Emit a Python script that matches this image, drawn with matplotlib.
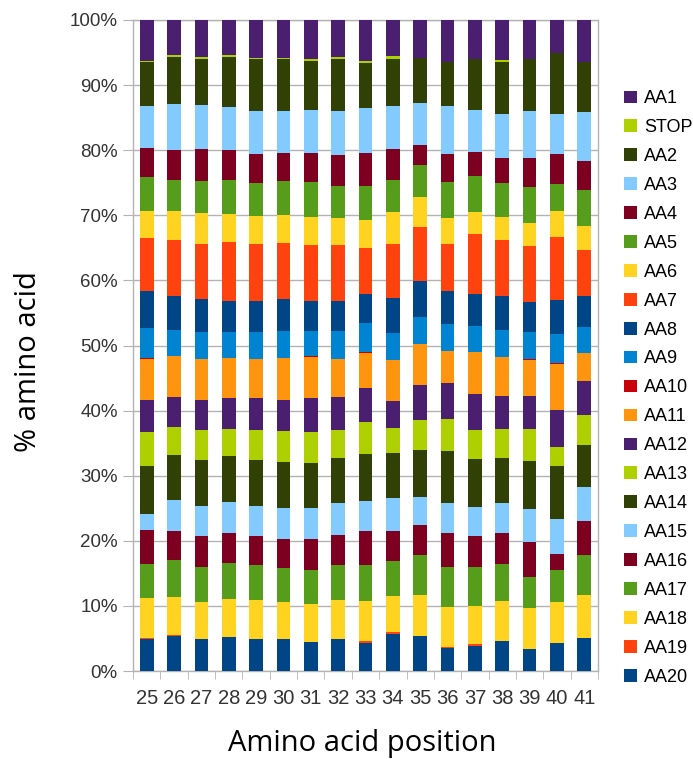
import matplotlib
matplotlib.use("Agg")
import matplotlib.pyplot as plt
from matplotlib.patches import Patch
import numpy as np

positions = [str(p) for p in range(25, 42)]

# percent of each amino acid at every position
aa1 = [6.25, 5.38, 5.73, 5.43, 5.79, 5.79, 5.99, 5.73, 6.25, 5.53, 5.84, 6.50, 5.99, 6.09, 5.99, 5.02, 6.50]
stop = [0.26, 0.26, 0.20, 0.26, 0.20, 0.15, 0.26, 0.20, 0.41, 0.46, 0, 0, 0, 0.31, 0, 0, 0]
aa2 = [6.71, 7.22, 7.12, 7.73, 8.04, 8.09, 7.53, 8.09, 6.76, 7.22, 6.86, 6.71, 7.78, 7.99, 8.04, 9.37, 7.63]
aa3 = [6.35, 7.12, 6.71, 6.55, 6.50, 6.30, 6.61, 6.71, 6.91, 6.55, 6.50, 7.27, 6.55, 6.71, 7.07, 6.14, 7.53]
aa4 = [4.56, 4.51, 4.92, 4.51, 4.51, 4.35, 4.45, 4.66, 5.07, 4.71, 3.02, 4.35, 3.58, 3.94, 4.51, 4.66, 4.35]
aa5 = [5.17, 4.81, 5.02, 5.22, 5.02, 5.17, 5.38, 5.02, 5.22, 4.97, 4.86, 5.58, 5.58, 5.22, 5.53, 4.10, 5.53]
aa6 = [4.10, 4.51, 4.66, 4.30, 4.30, 4.35, 4.35, 4.15, 4.30, 4.92, 4.66, 3.94, 3.38, 3.53, 3.58, 3.94, 3.74]
aa7 = [8.24, 8.55, 8.55, 9.17, 8.81, 8.55, 8.60, 8.60, 7.07, 8.35, 8.35, 7.27, 9.11, 8.55, 8.60, 9.68, 7.07]
aa8 = [5.58, 5.12, 4.97, 4.71, 4.71, 4.97, 4.56, 4.56, 4.45, 5.27, 5.43, 5.02, 5.02, 5.17, 4.56, 5.22, 4.66]
aa9 = [4.66, 3.99, 4.10, 3.89, 4.10, 4.05, 3.84, 4.25, 4.51, 4.10, 4.15, 4.10, 3.94, 4.25, 4.10, 4.51, 4.10]
aa10 = [0.20, 0.10, 0.10, 0.10, 0, 0, 0.10, 0, 0.15, 0, 0, 0, 0, 0, 0.10, 0.10, 0]
aa11 = [6.20, 6.30, 6.30, 6.14, 6.04, 6.50, 6.35, 5.89, 5.27, 6.30, 6.30, 4.92, 6.40, 5.94, 5.63, 7.07, 4.20]
aa12 = [4.97, 4.51, 4.61, 4.71, 4.86, 4.81, 5.22, 5.02, 5.22, 4.15, 5.43, 5.53, 5.53, 5.02, 5.02, 5.73, 5.22]
aa13 = [5.12, 4.30, 4.56, 4.20, 4.56, 4.66, 4.71, 4.35, 4.92, 3.94, 4.51, 4.92, 4.51, 4.51, 4.92, 2.82, 4.66]
aa14 = [7.42, 6.91, 7.07, 7.07, 7.07, 7.12, 6.91, 6.86, 7.22, 6.86, 7.22, 7.99, 7.27, 6.86, 7.42, 8.19, 6.50]
aa15 = [2.46, 4.86, 4.61, 4.76, 4.61, 4.66, 4.66, 4.86, 4.66, 5.07, 4.30, 4.66, 4.51, 4.51, 5.07, 5.43, 5.22]
aa16 = [5.22, 4.45, 4.76, 4.51, 4.51, 4.51, 4.81, 4.71, 5.27, 4.51, 4.61, 5.12, 4.71, 4.86, 5.22, 2.41, 5.12]
aa17 = [5.27, 5.58, 5.38, 5.48, 5.38, 5.22, 5.27, 5.33, 5.43, 5.43, 6.14, 6.09, 5.99, 5.63, 4.81, 4.86, 6.14]
aa18 = [6.14, 5.79, 5.73, 5.89, 5.89, 5.73, 5.73, 5.89, 6.14, 5.53, 6.30, 6.20, 5.89, 6.14, 6.35, 6.35, 6.55]
aa19 = [0.05, 0.20, 0, 0, 0, 0, 0, 0.10, 0.26, 0.36, 0, 0.20, 0.26, 0, 0, 0, 0]
aa20 = [4.97, 5.38, 4.86, 5.22, 4.97, 4.86, 4.51, 4.86, 4.35, 5.63, 5.38, 3.48, 3.84, 4.61, 3.33, 4.25, 5.12]

# stacking order, bottom first
names = ['AA20', 'AA19', 'AA18', 'AA17', 'AA16', 'AA15', 'AA14', 'AA13', 'AA12', 'AA11',
         'AA10', 'AA9', 'AA8', 'AA7', 'AA6', 'AA5', 'AA4', 'AA3', 'AA2', 'STOP', 'AA1']
series = [aa20, aa19, aa18, aa17, aa16, aa15, aa14, aa13, aa12, aa11,
          aa10, aa9, aa8, aa7, aa6, aa5, aa4, aa3, aa2, stop, aa1]

palette = ['#004586', '#ff420e', '#ffd320', '#579d1c', '#7e0021', '#83caff',
           '#314004', '#aecf00', '#4b1f6f', '#ff950e', '#c5000b', '#0084d1']

data = np.array(series, dtype=float)
data = data / data.sum(axis=0) * 100

fig = plt.figure(figsize=(6.93, 7.59), dpi=100)
ax = fig.add_axes([133 / 693, 1 - 671 / 759, 465 / 693, 651 / 759])

x = np.arange(len(positions))
bottom = np.zeros(len(positions))
handles = []
for i, (name, vals) in enumerate(zip(names, data)):
    col = palette[i % len(palette)]
    ax.bar(x, vals, bottom=bottom, width=0.5, color=col, linewidth=0, zorder=3)
    bottom += vals
    handles.append(Patch(facecolor=col, label=name))

ax.set_xlim(-0.5, len(positions) - 0.5)
ax.set_ylim(0, 100)
ax.set_yticks(np.arange(0, 101, 10))
ax.set_yticklabels([f'{v}%' for v in range(0, 101, 10)])
ax.set_xticks(x)
ax.set_xticklabels(positions)
ax.set_xticks(np.arange(-0.5, len(positions), 1), minor=True)
ax.tick_params(axis='x', which='major', length=0, pad=13)
ax.tick_params(axis='x', which='minor', length=6, color='#b3b3b3')
ax.tick_params(axis='y', length=7, color='#b3b3b3', pad=4)
for lab in ax.get_xticklabels():
    lab.set_family('Liberation Sans')
    lab.set_fontsize(14.5)
    lab.set_color('#333333')
for lab in ax.get_yticklabels():
    lab.set_family('Liberation Sans')
    lab.set_fontsize(13.5)
    lab.set_color('#333333')

ax.grid(axis='y', color='#b3b3b3', linewidth=1, zorder=0)
for sp in ax.spines.values():
    sp.set_color('#b3b3b3')
    sp.set_linewidth(1)

fig.text(362 / 693, 1 - 744 / 759, 'Amino acid position', ha='center', va='center',
         family='Open Sans', fontsize=21)
fig.text(28 / 693, 1 - 362 / 759, '% amino acid', ha='center', va='center',
         rotation=90, family='Open Sans', fontsize=21)

fig.legend(handles=handles[::-1], loc='upper left', bbox_to_anchor=(617 / 693, 1 - 83 / 759),
           frameon=False, prop={'family': 'Liberation Sans', 'size': 13},
           handlelength=0.7, handleheight=0.7, handletextpad=0.4, labelspacing=0.66,
           borderaxespad=0)

fig.savefig('out.png', dpi=100)
